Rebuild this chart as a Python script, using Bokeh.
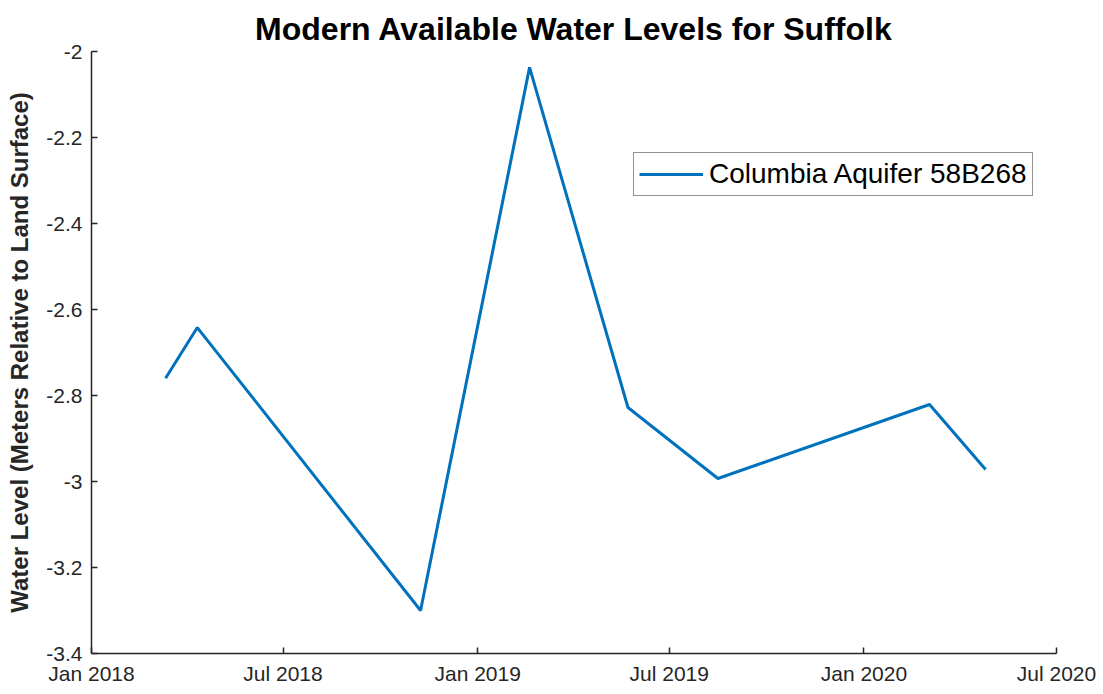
from datetime import datetime
from bokeh.plotting import figure
from bokeh.models import Range1d, FixedTicker, DatetimeTickFormatter, Legend, LegendItem, ColumnDataSource
from bokeh.embed import file_html
from bokeh.resources import INLINE

dates = ["2018-03-12", "2018-04-11", "2018-11-08", "2019-02-19",
         "2019-05-23", "2019-08-16", "2020-03-03", "2020-04-25"]
levels = [-2.760, -2.642, -3.300, -2.037, -2.828, -2.993, -2.821, -2.972]
series_name = "Columbia Aquifer 58B268"
x_tick_dates = ["2018-01-01", "2018-07-01", "2019-01-01", "2019-07-01", "2020-01-01", "2020-07-01"]
y_ticks = [-3.4, -3.2, -3.0, -2.8, -2.6, -2.4, -2.2, -2.0]
y_tick_labels = ["-3.4", "-3.2", "-3", "-2.8", "-2.6", "-2.4", "-2.2", "-2"]

def ms(s):
    return datetime.strptime(s, "%Y-%m-%d").timestamp() * 1000.0

xs = [datetime.strptime(d, "%Y-%m-%d") for d in dates]
src = ColumnDataSource(dict(x=xs, y=levels))

p = figure(width=1103, height=694, x_axis_type="datetime",
           output_backend="svg", toolbar_location=None,
           min_border_left=91, min_border_right=47, min_border_top=51, min_border_bottom=41)
p.x_range = Range1d(ms(x_tick_dates[0]), ms(x_tick_dates[-1]))
p.y_range = Range1d(-3.4, -2.0)

p.title.text = "Modern Available Water Levels for Suffolk"
p.title.align = "center"
p.title.text_font = "Liberation Sans"
p.title.text_font_size = "32px"
p.title.text_font_style = "bold"
p.title.text_color = "#000000"
p.title.standoff = 10

p.outline_line_color = None
p.xgrid.grid_line_color = None
p.ygrid.grid_line_color = None
p.background_fill_color = "white"
p.border_fill_color = "white"

for ax in (p.xaxis[0], p.yaxis[0]):
    ax.axis_line_color = "#262626"
    ax.axis_line_width = 1.5
    ax.major_tick_line_color = "#262626"
    ax.major_tick_line_width = 1.5
    ax.major_tick_in = 6
    ax.major_tick_out = 0
    ax.minor_tick_line_color = None
    ax.major_label_text_font = "Liberation Sans"
    ax.major_label_text_font_size = "21px"
    ax.major_label_text_color = "#262626"

p.xaxis.ticker = FixedTicker(ticks=[ms(d) for d in x_tick_dates])
p.xaxis.formatter = DatetimeTickFormatter(months="%b %Y", days="%b %Y", years="%b %Y")
p.xaxis.major_label_standoff = 8

p.yaxis.ticker = FixedTicker(ticks=y_ticks)
p.yaxis.major_label_overrides = {t: l for t, l in zip(y_ticks, y_tick_labels)}
p.yaxis.major_label_standoff = 9
p.yaxis.axis_label = "Water Level (Meters Relative to Land Surface)"
p.yaxis.axis_label_text_font = "Liberation Sans"
p.yaxis.axis_label_text_font_size = "24px"
p.yaxis.axis_label_text_font_style = "bold"
p.yaxis.axis_label_text_color = "#262626"
p.yaxis.axis_label_standoff = 10

r = p.line("x", "y", source=src, line_color="#0072BD", line_width=3)

legend = Legend(items=[LegendItem(label=series_name, renderers=[r])],
                location=(542, 457))
legend.label_text_font = "Liberation Sans"
legend.label_text_font_size = "28px"
legend.label_text_color = "#000000"
legend.glyph_width = 64
legend.label_standoff = 6
legend.border_line_color = "#262626"
legend.border_line_width = 1.5
legend.padding = 5
legend.spacing = 0
legend.margin = 0
p.add_layout(legend, "center")

open("out.html", "w").write(file_html(p, INLINE))
